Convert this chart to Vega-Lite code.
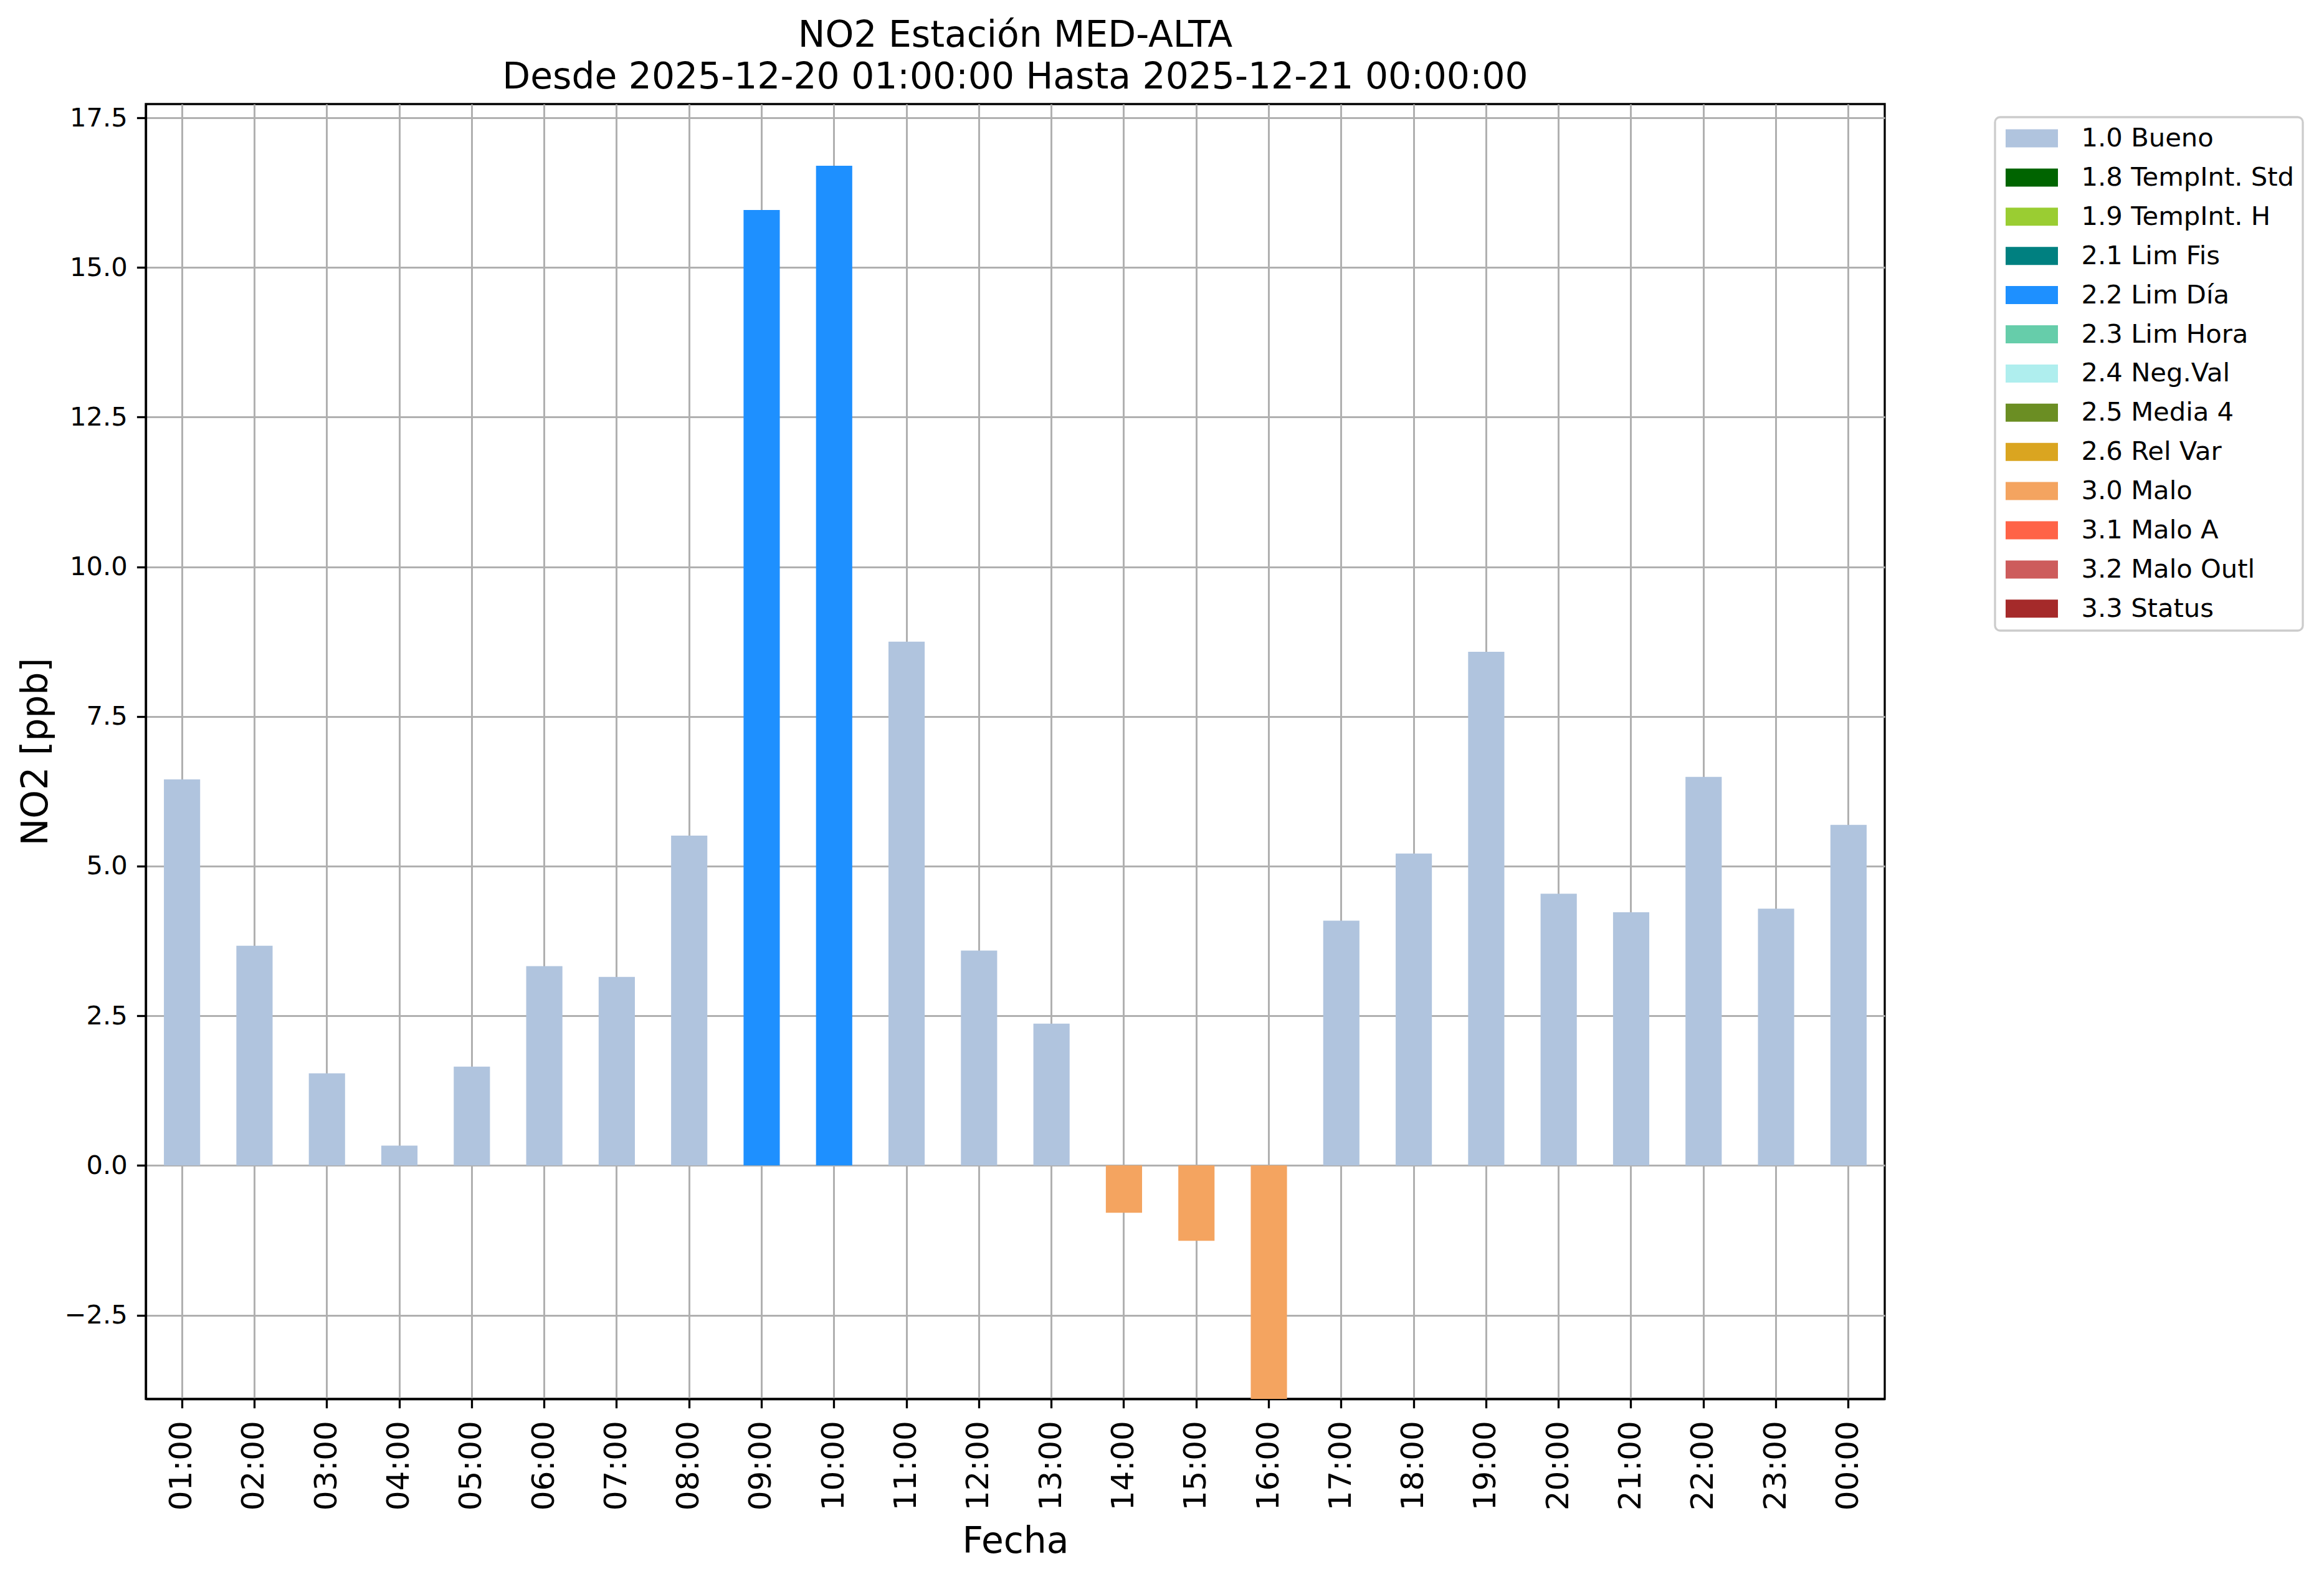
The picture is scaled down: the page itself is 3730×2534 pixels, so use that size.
{
  "$schema": "https://vega.github.io/schema/vega-lite/v6.json",
  "width": 2791,
  "height": 2078,
  "autosize": {"type": "none"},
  "padding": {"left": 234, "top": 167, "right": 705, "bottom": 289},
  "background": "white",
  "config": {
    "font": "DejaVu Sans",
    "view": {"stroke": "black", "strokeWidth": 3.3},
    "axis": {
      "domainColor": "black", "domainWidth": 3.3,
      "tickColor": "black", "tickWidth": 3.3, "tickSize": 14.6,
      "labelColor": "black", "titleColor": "black",
      "labelFont": "DejaVu Sans", "titleFont": "DejaVu Sans",
      "titleFontWeight": "normal",
      "gridColor": "#b0b0b0", "gridWidth": 3, "gridOpacity": 1,
      "zindex": 1
    }
  },
  "title": {
    "text": ["NO2 Estación MED-ALTA", "Desde 2025-12-20 01:00:00 Hasta 2025-12-21 00:00:00"],
    "font": "DejaVu Sans",
    "fontSize": 58.3,
    "fontWeight": "normal",
    "color": "black",
    "anchor": "middle",
    "lineHeight": 67,
    "offset": 13
  },
  "data": {
    "values": [
      {"hora": "01:00", "valor": 6.45, "flag": "1.0 Bueno"},
      {"hora": "02:00", "valor": 3.67, "flag": "1.0 Bueno"},
      {"hora": "03:00", "valor": 1.54, "flag": "1.0 Bueno"},
      {"hora": "04:00", "valor": 0.33, "flag": "1.0 Bueno"},
      {"hora": "05:00", "valor": 1.65, "flag": "1.0 Bueno"},
      {"hora": "06:00", "valor": 3.33, "flag": "1.0 Bueno"},
      {"hora": "07:00", "valor": 3.15, "flag": "1.0 Bueno"},
      {"hora": "08:00", "valor": 5.51, "flag": "1.0 Bueno"},
      {"hora": "09:00", "valor": 15.96, "flag": "2.2 Lim Día"},
      {"hora": "10:00", "valor": 16.70, "flag": "2.2 Lim Día"},
      {"hora": "11:00", "valor": 8.75, "flag": "1.0 Bueno"},
      {"hora": "12:00", "valor": 3.59, "flag": "1.0 Bueno"},
      {"hora": "13:00", "valor": 2.37, "flag": "1.0 Bueno"},
      {"hora": "14:00", "valor": -0.79, "flag": "3.0 Malo"},
      {"hora": "15:00", "valor": -1.26, "flag": "3.0 Malo"},
      {"hora": "16:00", "valor": -4.5, "flag": "3.0 Malo"},
      {"hora": "17:00", "valor": 4.09, "flag": "1.0 Bueno"},
      {"hora": "18:00", "valor": 5.21, "flag": "1.0 Bueno"},
      {"hora": "19:00", "valor": 8.58, "flag": "1.0 Bueno"},
      {"hora": "20:00", "valor": 4.54, "flag": "1.0 Bueno"},
      {"hora": "21:00", "valor": 4.23, "flag": "1.0 Bueno"},
      {"hora": "22:00", "valor": 6.49, "flag": "1.0 Bueno"},
      {"hora": "23:00", "valor": 4.29, "flag": "1.0 Bueno"},
      {"hora": "00:00", "valor": 5.69, "flag": "1.0 Bueno"}
    ]
  },
  "mark": {"type": "bar", "clip": true},
  "encoding": {
    "x": {
      "field": "hora", "type": "ordinal", "sort": null,
      "scale": {"paddingInner": 0.5, "paddingOuter": 0.25},
      "axis": {
        "title": "Fecha", "titleFontSize": 58.3,
        "labelAngle": 270, "labelFontSize": 50, "labelPadding": 20,
        "grid": true,
        "titleBaseline": "alphabetic", "titleY": 246, "titleX": 1395.5, "titleAlign": "center"
      }
    },
    "y": {
      "field": "valor", "type": "quantitative",
      "scale": {"domain": [-3.9, 17.73], "nice": false, "zero": false},
      "axis": {
        "title": "NO2 [ppb]", "titleFontSize": 58.3,
        "values": [-2.5, 0, 2.5, 5, 7.5, 10, 12.5, 15, 17.5],
        "format": ".1f", "labelFontSize": 41.7, "labelPadding": 15,
        "grid": true,
        "titleAngle": 270, "titleBaseline": "alphabetic", "titleAlign": "center",
        "titleX": -159, "titleY": 1039
      }
    },
    "y2": {"datum": 0},
    "color": {
      "field": "flag", "type": "nominal",
      "scale": {
        "domain": ["1.0 Bueno", "1.8 TempInt. Std", "1.9 TempInt. H", "2.1 Lim Fis", "2.2 Lim Día", "2.3 Lim Hora", "2.4 Neg.Val", "2.5 Media 4", "2.6 Rel Var", "3.0 Malo", "3.1 Malo A", "3.2 Malo Outl", "3.3 Status"],
        "range": ["#B0C4DE", "#006400", "#9ACD32", "#008080", "#1E90FF", "#66CDAA", "#AFEEEE", "#6B8E23", "#DAA520", "#F4A460", "#FF6347", "#CD5C5C", "#A52A2A"]
      },
      "legend": {
        "title": null,
        "orient": "none",
        "legendX": 2968,
        "legendY": 21,
        "padding": 13,
        "fillColor": "white",
        "strokeColor": "#cccccc",
        "cornerRadius": 8,
        "symbolType": "M-2,-0.69H2V0.69H-2Z",
        "symbolSize": 1764,
        "symbolStrokeWidth": 0,
        "symbolOpacity": 1,
        "symbolOffset": 25,
        "labelOffset": 58.6,
        "labelFontSize": 41.7,
        "labelFont": "DejaVu Sans",
        "labelColor": "black",
        "labelLimit": 1000,
        "rowPadding": 19.9,
        "encode": {"legend": {"update": {"strokeWidth": {"value": 3.3}}}}
      }
    }
  }
}
